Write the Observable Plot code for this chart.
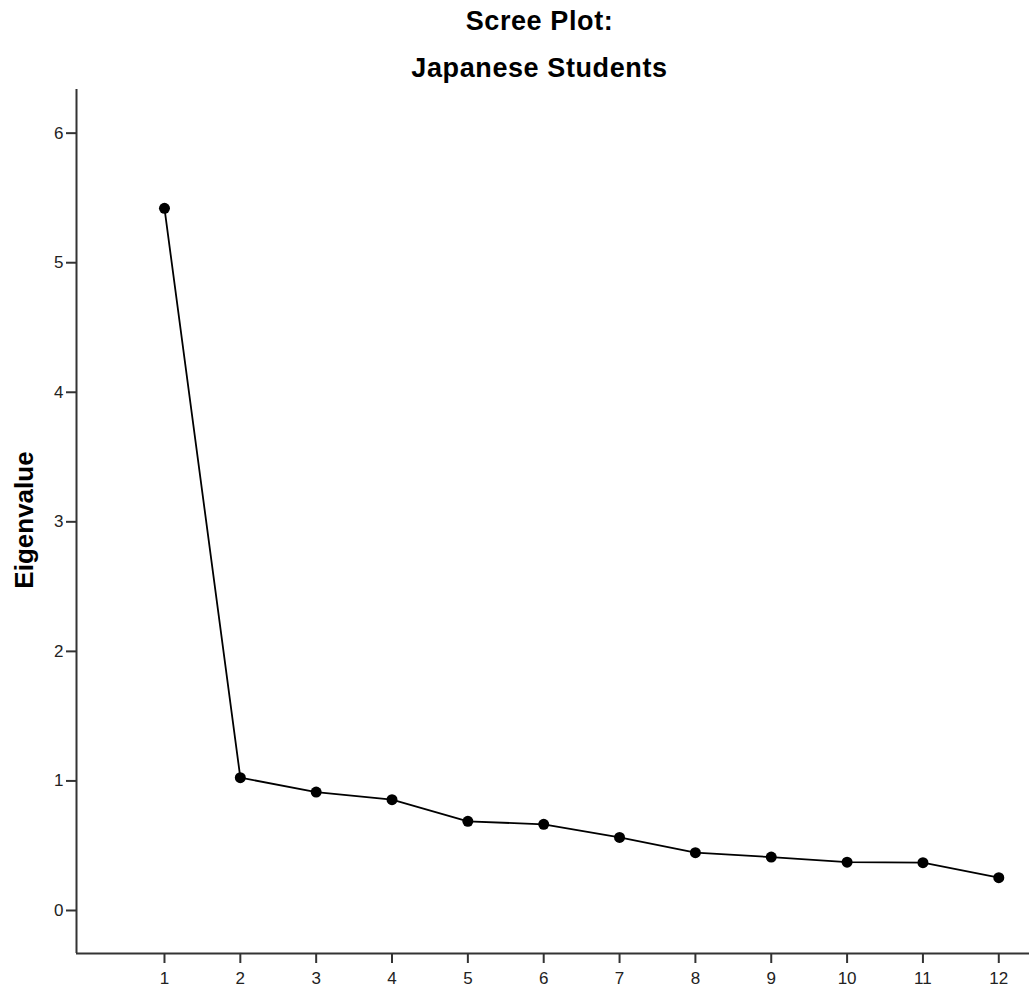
<!DOCTYPE html>
<html>
<head>
<meta charset="utf-8">
<script src="https://cdn.jsdelivr.net/npm/d3@7"></script>
<script src="https://cdn.jsdelivr.net/npm/@observablehq/plot@0.6"></script>
<style>
  html, body { margin: 0; padding: 0; background: #fff; }
  #wrap { position: relative; width: 1029px; height: 991px; overflow: hidden; font-family: "Liberation Sans", Arial, sans-serif; }
  .title { position: absolute; z-index: 2; left: 0; width: 1079px; text-align: center; font-weight: bold; font-size: 27px; line-height: 27px; letter-spacing: 0.6px; color: #000; }
  #ylabel { position: absolute; z-index: 2; left: -76px; top: 507px; width: 200px; height: 26px; line-height: 26px; text-align: center; font-weight: bold; font-size: 26px; transform: rotate(-90deg); color: #000; }
  #chart { position: absolute; z-index: 1; left: 0; top: 0; }
</style>
</head>
<body>
<div id="wrap">
  <div id="chart"></div>
  <div class="title" style="top:8px">Scree Plot:</div>
  <div class="title" style="top:55px">Japanese Students</div>
  <div id="ylabel">Eigenvalue</div>
</div>
<script>
const componentNumbers = [1, 2, 3, 4, 5, 6, 7, 8, 9, 10, 11, 12];
const eigenvalues = [5.42, 1.025, 0.914, 0.855, 0.688, 0.665, 0.564, 0.446, 0.412, 0.373, 0.369, 0.253];
const yTicks = [0, 1, 2, 3, 4, 5, 6];
const xTicks = componentNumbers;

const data = componentNumbers.map((c, i) => ({component: c, eigenvalue: eigenvalues[i]}));
const xDomain = [-0.16, 12.405];
const yDomain = [-0.332, 6.337];

const chart = Plot.plot({
  width: 1029,
  height: 991,
  marginTop: 89,
  marginBottom: 38,
  marginLeft: 76,
  marginRight: 0,
  style: {fontFamily: "'Liberation Sans', Arial, sans-serif", background: "transparent"},
  x: {domain: xDomain, axis: null},
  y: {domain: yDomain, axis: null},
  marks: [
    Plot.axisX({ticks: xTicks, tickSize: 10, tickPadding: 8, fontSize: 17, label: null, stroke: "#333", strokeWidth: 2, fill: "#222", tickFormat: d => String(d)}),
    Plot.axisY({ticks: yTicks, tickSize: 10, tickPadding: 3, fontSize: 17, label: null, stroke: "#333", strokeWidth: 2, fill: "#222", tickFormat: d => String(d)}),
    Plot.ruleX([xDomain[0]], {stroke: "#333", strokeWidth: 2}),
    Plot.ruleY([yDomain[0]], {stroke: "#333", strokeWidth: 2}),
    Plot.line(data, {x: "component", y: "eigenvalue", stroke: "#000", strokeWidth: 1.8}),
    Plot.dot(data, {x: "component", y: "eigenvalue", r: 5.5, fill: "#000", stroke: "none"})
  ]
});
document.getElementById("chart").appendChild(chart);
</script>
</body>
</html>
